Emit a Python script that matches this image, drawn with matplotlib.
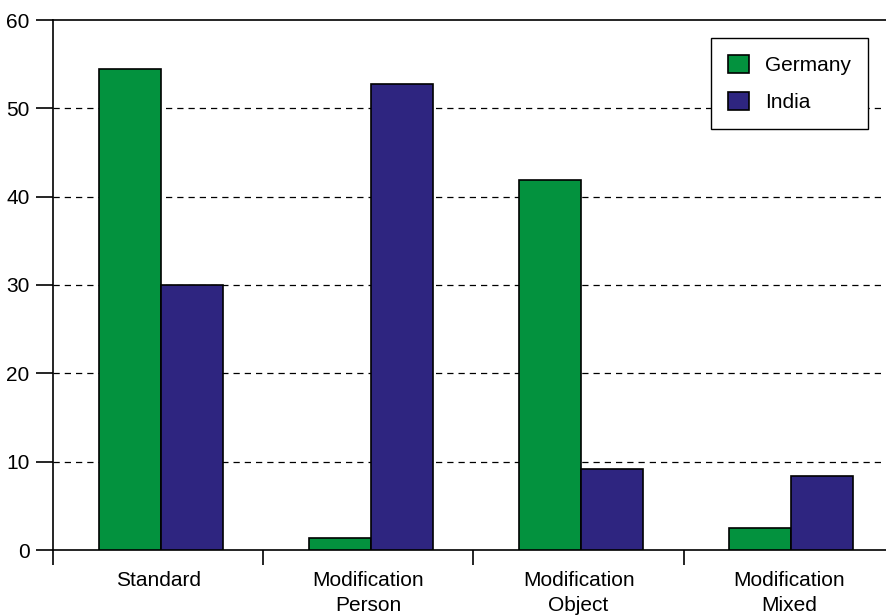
import matplotlib.pyplot as plt
import numpy as np

categories = ["Standard", "Modification\nPerson", "Modification\nObject", "Modification\nMixed"]
germany = [54.5, 1.4, 41.9, 2.5]
india = [30.0, 52.8, 9.2, 8.4]
y_ticks = [0, 10, 20, 30, 40, 50, 60]

plt.rcParams['font.family'] = ['Liberation Sans', 'DejaVu Sans']

fig = plt.figure(figsize=(8.87, 6.15), dpi=100)
# axes run past the right edge of the figure
ax = fig.add_axes([53 / 887, 65 / 615, 841 / 887, 530 / 615])

x = np.arange(len(categories)) + 0.012
w = 0.295
ax.bar(x - w / 2, germany, w, color='#03923e', edgecolor='black', linewidth=1.2,
       label='Germany', zorder=3)
ax.bar(x + w / 2, india, w, color='#2e2580', edgecolor='black', linewidth=1.2,
       label='India', zorder=3)

ax.set_xlim(-0.5, len(categories) - 0.5)
ax.set_ylim(0, 60)
ax.set_yticks(y_ticks)
# dashed guide lines only between the bottom and top frame
for level in y_ticks[1:-1]:
    ax.axhline(level, linestyle=(0, (5, 4)), color='black', linewidth=0.9, zorder=0)

ax.set_xticks(np.arange(len(categories)))
ax.set_xticklabels(categories, fontsize=15, linespacing=1.4)
ax.set_xticks(np.arange(len(categories) + 1) - 0.5, minor=True)
ax.tick_params(axis='x', which='major', length=0, pad=15)
ax.tick_params(axis='x', which='minor', length=11, width=1.2, direction='out')
ax.tick_params(axis='y', length=12, width=1.2, direction='out', labelsize=15, pad=5)

for side in ['left', 'bottom', 'top']:
    ax.spines[side].set_linewidth(1.2)
ax.spines['right'].set_visible(False)

leg = ax.legend(loc='upper right', bbox_to_anchor=(815 / 841, 0.966), fontsize=15,
                fancybox=False, edgecolor='black', framealpha=1,
                handlelength=1.0, handleheight=1.0, borderpad=0.8,
                labelspacing=0.8, handletextpad=0.8, borderaxespad=0)
leg.get_frame().set_linewidth(1.0)

fig.savefig('out.png', dpi=100)
